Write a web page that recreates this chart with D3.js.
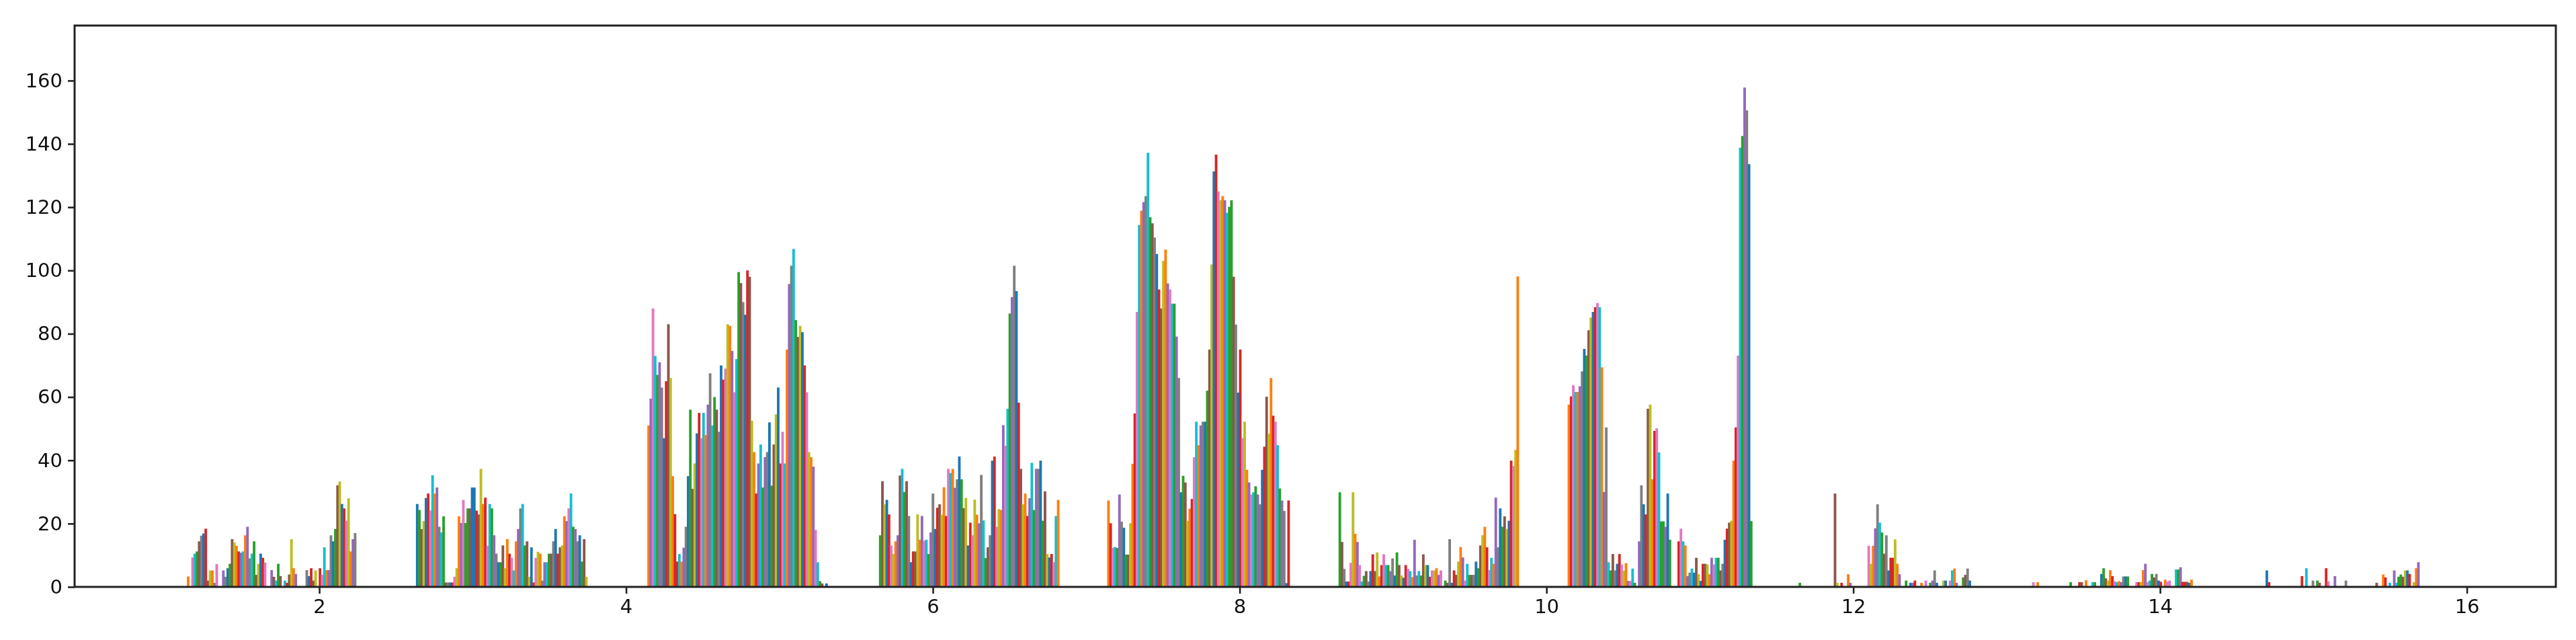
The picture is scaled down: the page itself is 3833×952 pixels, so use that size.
<!DOCTYPE html>
<html>
<head>
<meta charset="utf-8">
<script src="https://cdnjs.cloudflare.com/ajax/libs/d3/7.8.5/d3.min.js"></script>
<style>html,body{margin:0;padding:0;background:#fff;overflow:hidden}</style>
</head>
<body>
<svg id="chart" width="3833" height="952"></svg>
<script>
const xTicks = [2,4,6,8,10,12,14,16];
const yTicks = [0,20,40,60,80,100,120,140,160];
const xDomain = [0.405,16.58];
const yDomain = [0,177.4];
const barStep = 0.01432;
const palette = {u:"#1f77b4",o:"#ff7f0e",g:"#2ca02c",r:"#d62728",p:"#9467bd",n:"#8c564b",k:"#e377c2",a:"#7f7f7f",l:"#bcbd22",c:"#17becf"};

const start1 = 1.1455;
const colors1 = "o . k c g n a u r n l o a k . . p a u g n l o r p c o p a c g n l u r k . . p n c g n . c r n l o p . . . . a u r n l . r k c o p a u g n l u r k l o p a";
const values1 = [3.3,0,9.3,10.5,11.2,14.4,16.2,16.9,18.4,2,5.2,5.2,1.3,7.2,0,0,5.2,3.2,5.9,7.3,15.1,14,13,11.2,10.8,11.2,16.3,19,9,10.5,14.4,3.8,7.3,10.5,9.2,7.7,0,0,5.3,3.2,2,7.3,3.4,0,2,1.3,3.9,15.1,5.9,4.1,0,0,0,0,5.3,3.4,5.9,2,5.2,0,5.9,3.8,12.5,5.3,5.3,16.3,14.4,18.3,32.1,33.3,26.2,24.8,20.9,28,11.2,15.1,17];

const start2 = 2.6385;
const colors2 = "u g n l u r k c o p a c g n a u r k l o p k g g n u u r n l o r k c g p a u g n l o r k c o p a c g n l u r k l o a p c g n a u r n l o p k c g p a u g n l";
const values2 = [26.2,24.3,18.3,20.8,28.1,29.5,24.1,35.3,29.5,31.4,19,17.2,22.3,1.4,1.4,1.4,1.4,3.2,5.9,22.3,20.2,27.5,20.2,24.8,24.8,31.4,31.4,24.1,22.9,37.3,26.2,28.2,13,26.2,24.8,16.3,10.5,7.8,7.8,13.1,5.9,15.1,10.5,9.2,5.2,14.4,18.3,24.8,26.2,13.1,14.4,3.2,12.5,1.4,9.2,11.1,10.5,2,7.8,7.8,10.5,10.5,14.4,18.3,10.5,12.5,13.1,22.3,20.8,24.8,29.5,19,18.3,14.4,16.3,8,15.1,3.2];

const start3 = 4.147;
const colors3 = "o p k c g p a u r n l o r r c o p a u g n l u r k c o p a c g n a u r k l o p k c g n a u r n l o r p c g p a u g n l u r k c o p a c g n l u r k l o p k c g n . u";
const values3 = [51,59.5,88,73,67,71,63,47,65,83,66,35,23,8,10.4,8,12.4,19,35,56,31,39,48.5,55,47,55,48,57.6,67.5,51,60,56,49,70,65.5,69,83,82.5,74.6,61.5,72,99.5,96,90,86,100,98,52.5,42.6,29.5,39,45,31.4,41,42.6,52,32,45,54.5,63,39,49,39,75,95.7,101.5,106.8,84.3,79,82.5,80.5,70,61.5,42.6,41,38,18,7.8,1.8,1.1,0,1.1];

const start4 = 5.657;
const colors4 = "g n l u r k l o p n c g n a u r n l o p k c g p a u r n l o r k c o p a u g n l u r k l o p a c g n a u r k l o p k c g p a u r n l o r p c g p a u g n l u r k c o";
const values4 = [16.3,33.4,26.1,27.5,22.9,13.1,10.4,14.4,16.3,35.2,37.3,30,33.4,22.4,7.8,11.2,11.2,22.9,14.9,22.4,14.6,14.9,10.4,17.2,29.5,18.3,25,26.1,22.8,31.5,22.4,37.3,36,37.3,31.3,34,41.2,34,24.9,28.1,13.1,20.3,16.3,27.6,22.8,20.1,35.4,21,9.1,12.5,16.3,39.9,41.2,19,24.6,24.3,51.1,44.6,56.3,86.4,91.6,101.5,93.5,58.2,37.3,26.1,29.5,22.4,28,39.2,24.3,37.3,37.3,39.9,20.9,30.2,10.4,9.3,10.4,7.8,22.4,27.5];

const start5 = 7.1447;
const colors5 = "o r k c g p a u g n l o r k c o p a c g n a u r n l o p k c g p a u g n l o r k c o p a u g n l u r k l o p c g g n a u r k l o p k c g p a u r n l o r k c g p a u r";
const values5 = [27.3,20.1,12.3,12.6,12.3,29.2,20.6,18.7,10.2,10.2,20.1,38.9,54.8,86.9,114.4,118.9,121.6,123.5,137.2,116.8,114.9,110.4,105.2,94,88,103,106.6,95.9,94,89.5,89.5,79.1,66,29.9,35.1,33,20.9,24.7,27.8,41,52.2,44.8,51,52.2,52.2,62,75,101.9,131.3,136.6,125,122.2,123.5,122.2,118.2,120.1,122.2,98,82.9,61.4,75,47,52.2,37,33,29.2,29.9,31.8,29.2,26.1,37,44.3,60.1,48.4,66,54.1,52.2,44.8,31.1,27.3,24,1.2,27.3];

const start6 = 8.653;
const colors6 = "g n a u r k l o p k c g n a u r n l o r k c g p a u g n l u r k c o p a c g n l u r k l o p k . g n a u r n l o p k c g n a u g n l o r k c o p a u g n l u r k l o";
const values6 = [29.9,14.2,5.7,1.7,1.7,7.6,29.9,16.8,14.2,6.9,1.7,3.5,5,1.7,5,10.3,5,10.9,3.3,6.9,10.3,6.9,6.9,5,9,3.6,10.9,6.9,3.6,2.9,6.9,5.7,5,3.1,14.9,3.6,5,3.6,10.3,6.9,6.9,3.2,5.2,5.2,5.9,3.8,5.2,0,2,1.3,15.1,1.3,5.2,3.8,8,12.6,9.3,2,7.3,3.8,3.8,3.8,8,5.9,13.1,16.3,19,12.5,5.3,9.2,7.3,28.2,12.5,24.8,19,22.3,18.3,20.9,39.9,38.2,43.3,98.1];

const start7 = 10.1463;
const colors7 = "o r k c o p a u g n l u r k c o p a c g n a u r k l o p k c g . p a u r n l o r k c g g p u g . . . r k c o p a c u n l u r n l o p k c g n a u r n l o r k c g p a u g";
const values7 = [57.6,60.2,63.7,61.6,61.6,63.4,68.1,75.2,73.1,81.1,85.1,86.9,88.4,89.7,88.4,69.4,30,50.4,7.8,5.2,10.4,5.2,7.3,10.4,7.1,5.1,7.5,1.9,1.9,5.8,1.3,0,14.4,32.1,26.1,22.9,56.3,57.6,34,49.3,50.1,42.5,20.7,20.7,19,29.5,14.9,0,0,0,14.4,18.4,14.4,13.1,3.4,4.5,5.8,4.5,9.2,4,1.9,7.3,7.3,7.1,4,9.2,7.1,9.2,9.2,5.2,7.3,14.9,18.4,20.3,20.9,39.9,50.4,73.1,138.8,142.5,157.8,150.6,133.6,20.8];

const start8 = 11.652;
const colors8 = "g . . . . . . . . . . . . . . . n l . r . . o p";
const values8 = [1.3,0,0,0,0,0,0,0,0,0,0,0,0,0,0,0,29.5,1.3,0,1.3,0,0,4,1.3];

const start9 = 12.101;
const colors9 = "k l o p a c g n a u r r l o p . . g . u p r . . o . k . g p a u . . l u . k c o p . . g n a u";
const values9 = [13,7.3,13,18.5,26.1,20.3,17.2,10.5,16.3,5.2,9.2,9.2,15,7.3,4,0,0,2,0,1.3,1.3,2,0,0,1.3,0,2,0,1.3,2,5.2,1.3,0,0,2,2,0,2,5.2,5.8,1.3,0,0,3,3.8,5.8,2];

const start10 = 13.174;
const colors10 = "k . o . . . . . . . . . . . . . . g . . . r n . o . . c g . . u g n l o r k c o p a u g . . . k r l o p k c g n a u r . o k k . . c g p r r n u o";
const values10 = [1.5,0,1.5,0,0,0,0,0,0,0,0,0,0,0,0,0,0,1.5,0,0,0,1.5,1.5,0,2.1,0,0,1.5,1.5,0,0,4.1,5.9,2.7,2,5.3,3.4,1.8,1.5,1.8,1.5,3.3,3.3,3.3,0,0,0,1.5,1.5,1.5,5.3,7.3,1.5,2,4.1,3,4.1,2,1.6,0,2.3,1.6,2,0,0,5.5,5.5,6.2,1.6,1.6,1.6,1.3,2.3];

const start11 = 14.696;
const colors11 = "u r . . . . . . . . . . . . . . r . c . . a . g n . . r k . . p . . . . a . . . . . . . . . . . . . n . . o r . c . p c g g n l u r . l o p";
const values11 = [5.2,1.5,0,0,0,0,0,0,0,0,0,0,0,0,0,0,3.4,0,5.9,0,0,2,0,2,1.3,0,0,5.9,1.8,0,0,3.4,0,0,0,0,2,0,0,0,0,0,0,0,0,0,0,0,0,0,1.3,0,0,3.9,3,0,1.3,0,5.2,1.3,3.2,3.9,3.2,5.2,5.2,4.1,0,1.5,5.9,7.8];

const clusterStarts = [start1,start2,start3,start4,start5,start6,start7,start8,start9,start10,start11];
const clusterColors = [colors1,colors2,colors3,colors4,colors5,colors6,colors7,colors8,colors9,colors10,colors11];
const clusterValues = [values1,values2,values3,values4,values5,values6,values7,values8,values9,values10,values11];

const bars = [];
clusterStarts.forEach((s,ci)=>{
  const codes = clusterColors[ci].split(" ");
  clusterValues[ci].forEach((v,i)=>{ if (v>0) bars.push({x:s+i*barStep, v, code:codes[i]||"u"}); });
});

const m = {left:111,right:3803,top:38,bottom:873};
const x = d3.scaleLinear().domain(xDomain).range([m.left,m.right]);
const y = d3.scaleLinear().domain(yDomain).range([m.bottom,m.top]);
const svg = d3.select("#chart");
const defs = svg.append("defs");
defs.append("filter").attr("id","soft").attr("x",-0.01).attr("y",-0.01).attr("width",1.02).attr("height",1.02)
  .append("feGaussianBlur").attr("stdDeviation",0.65);
const root = svg.append("g").attr("filter","url(#soft)");
root.append("rect").attr("width",3833).attr("height",952).attr("fill","#fff");
const w = x(barStep)-x(0);
root.append("g").selectAll("rect").data(bars).join("rect")
  .attr("x",d=>x(d.x)-w/2-0.3).attr("width",w+0.6)
  .attr("y",d=>y(d.v)).attr("height",d=>y(0)-y(d.v))
  .attr("fill",d=>palette[d.code]);

const axisColor = "#222";
const fontFamily = "'DejaVu Sans',sans-serif";
const gx = root.append("g").attr("transform",`translate(0,${m.bottom})`)
  .call(d3.axisBottom(x).tickValues(xTicks).tickSize(10).tickPadding(8).tickFormat(d3.format("d")));
const gy = root.append("g").attr("transform",`translate(${m.left},0)`)
  .call(d3.axisLeft(y).tickValues(yTicks).tickSize(10).tickPadding(8).tickFormat(d3.format("d")));
[gx,gy].forEach(g=>{
  g.select(".domain").remove();
  g.selectAll("line").attr("stroke",axisColor).attr("stroke-width",2.6);
  g.selectAll("text").attr("fill","#111").attr("font-family",fontFamily).attr("font-size",29);
});
root.append("rect").attr("x",m.left).attr("y",m.top).attr("width",m.right-m.left).attr("height",m.bottom-m.top)
  .attr("fill","none").attr("stroke",axisColor).attr("stroke-width",3);
</script>
</body>
</html>
